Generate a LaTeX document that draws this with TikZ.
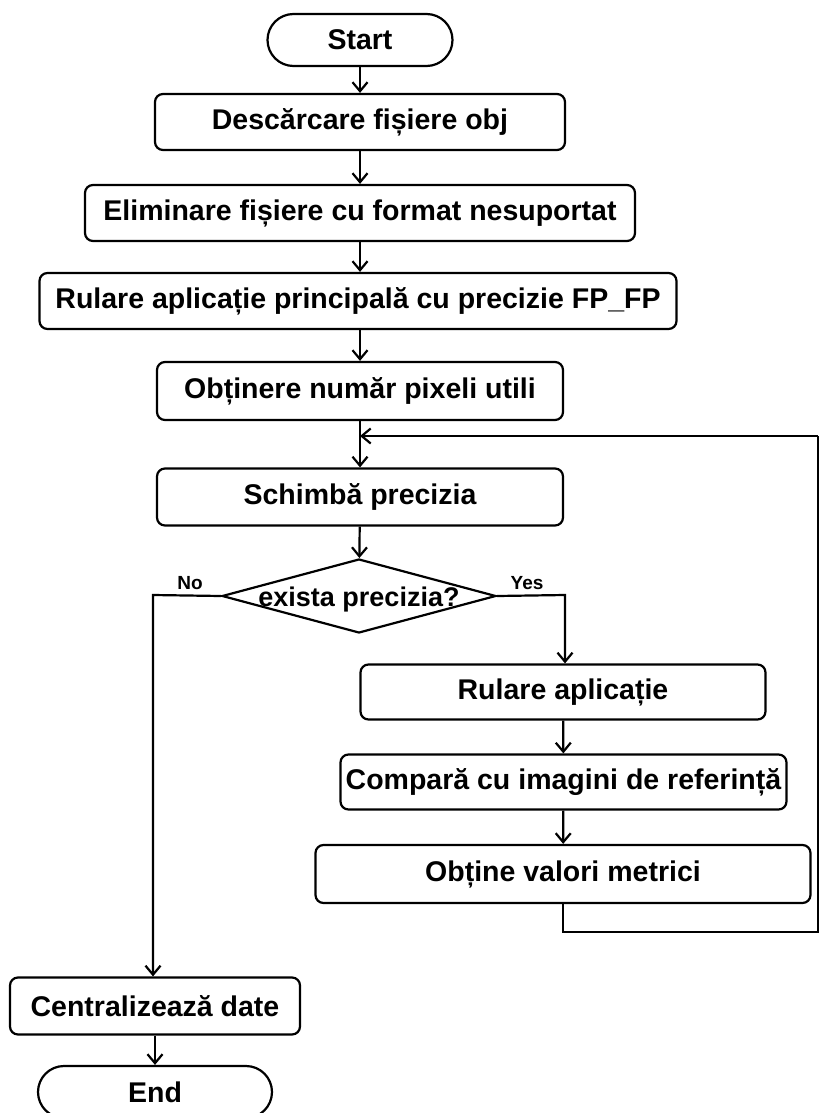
\documentclass[tikz,border=0pt]{standalone}
\usepackage{fontspec}
\setmainfont{Liberation Sans}
\usetikzlibrary{arrows.meta,shapes.geometric,positioning}
\begin{document}
\begin{tikzpicture}[x=1pt,y=1pt,
  line width=2.2pt,
  every node/.style={font=\fontsize{28.5}{32}\selectfont\bfseries},
  proc/.style={draw, rounded corners=8pt, minimum height=56pt, inner sep=0pt},
  lbl/.style={font=\fontsize{19}{22}\selectfont\bfseries},
  arr/.style={-{Straight Barb[length=9pt,width=15pt,line width=2.2pt]}}
]
\useasboundingbox (0,0) rectangle (819,-1113);
\node[draw, rounded corners=26pt, minimum width=185pt, minimum height=52pt, inner sep=0pt] (start) at (360,-40) {Start};
\node[proc, minimum width=410pt] (d1) at (360,-122) {Descărcare fișiere obj};
\node[proc, minimum width=550pt] (d2) at (360,-213) {Eliminare fișiere cu format nesuportat};
\node[proc, minimum width=637pt] (d3) at (358,-301) {Rulare aplicație principală cu precizie FP\_FP};
\node[proc, minimum width=406pt, minimum height=58pt] (d4) at (360,-391) {Obținere număr pixeli utili};
\node[proc, minimum width=406pt, minimum height=57pt] (d5) at (360,-497) {Schimbă precizia};
\node[draw, diamond, aspect=3.7, minimum width=274pt, minimum height=74pt, inner sep=0pt] (dec) at (359,-596) {};
\node[font=\fontsize{27}{30}\selectfont\bfseries] (dectxt) at (dec.center) [yshift=-4pt] {exista precizia?};
\node[proc, minimum width=405pt, minimum height=55pt] (r1) at (563,-692) {Rulare aplicație};
\node[proc, minimum width=446pt, minimum height=55pt] (r2) at (563.5,-782) {Compară cu imagini de referință};
\node[proc, minimum width=495pt, minimum height=58pt] (r3) at (563,-874) {Obține valori metrici};
\node[proc, minimum width=290pt, minimum height=57pt] (c) at (155,-1006) {Centralizează date};
\node[draw, rounded corners=26pt, minimum width=234pt, minimum height=52pt, inner sep=0pt] (end) at (155,-1092) {End};
\node[lbl] (no) at (190,-583) {No};
\node[lbl] (yes) at (527,-583) {Yes};
\coordinate (join) at (360,-436);
\coordinate (edgeT) at (818,-436);
\coordinate (edgeB) at (818,-932);
\coordinate (noC) at (153,-595);
\coordinate (yesC) at (565,-595);
\draw[arr] (start) -- (d1);
\draw[arr] (d1) -- (d2);
\draw[arr] (d2) -- (d3.north -| d2.south);
\draw[arr] (d3.south -| d4.north) -- (d4);
\draw[arr] (d4) -- (d5);
\draw[arr] (d5) -- (dec);
\draw[arr] (edgeT) -- (join);
\draw[arr] (dec.east) -- (yesC) -- (r1.north -| yesC);
\draw[arr] (dec.west) -- (noC) -- (c.north -| noC);
\draw[arr] (r1) -- (r2);
\draw[arr] (r2) -- (r3);
\draw (r3.south) -- (r3.south |- edgeB) -- (edgeB) -- (edgeT);
\draw[arr] (c) -- (end);
\end{tikzpicture}
\end{document}
